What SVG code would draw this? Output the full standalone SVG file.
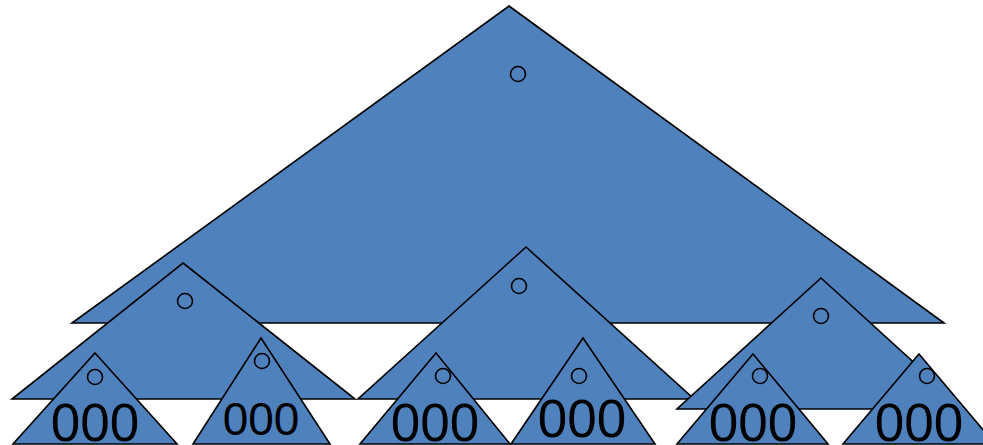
<svg xmlns="http://www.w3.org/2000/svg" width="983" height="445" viewBox="0 0 983 445">
<style>
.tri{fill:#4F81BD;stroke:#000;stroke-width:1.6;stroke-linejoin:miter}
.dot{fill:none;stroke:#000;stroke-width:1.6}
.lbl{font-family:"Liberation Sans",Arial,sans-serif;fill:#000;text-anchor:middle}
</style>
<rect width="983" height="445" fill="#fff"/>
<g id="root">
<polygon class="tri" points="509,6 944,323 72,323"/>
<circle class="dot" cx="518" cy="74" r="7.5"/>
</g>
<g id="midA">
<polygon class="tri" points="183,263 355,399 12,399"/>
<circle class="dot" cx="185" cy="301" r="7.5"/>
</g>
<g id="midB">
<polygon class="tri" points="526,247 694,399 358,399"/>
<circle class="dot" cx="519" cy="286" r="7.5"/>
</g>
<g id="midC">
<polygon class="tri" points="821,278 965,409 677,409"/>
<circle class="dot" cx="821" cy="316" r="7.5"/>
</g>
<g id="leaf1">
<polygon class="tri" points="95,353 177,444 13,444"/>
<circle class="dot" cx="95" cy="377" r="7.5"/>
<text class="lbl" x="95" y="441" font-size="53">000</text>
</g>
<g id="leaf2">
<polygon class="tri" points="261,338 330,444 193,444"/>
<circle class="dot" cx="262" cy="361" r="7.5"/>
<text class="lbl" x="261" y="435" font-size="46">000</text>
</g>
<g id="leaf3">
<polygon class="tri" points="436,353 510,444 360,444"/>
<circle class="dot" cx="443" cy="376" r="7.5"/>
<text class="lbl" x="435" y="441" font-size="53">000</text>
</g>
<g id="leaf4">
<polygon class="tri" points="583,338 655,444 511,444"/>
<circle class="dot" cx="579" cy="376" r="7.5"/>
<text class="lbl" x="582" y="437" font-size="53">000</text>
</g>
<g id="leaf5">
<polygon class="tri" points="753,354 828,444 677,444"/>
<circle class="dot" cx="760" cy="376" r="7.5"/>
<text class="lbl" x="753" y="441" font-size="53">000</text>
</g>
<g id="leaf6">
<polygon class="tri" points="919,354 995,444 843,444"/>
<circle class="dot" cx="927" cy="376" r="7.5"/>
<text class="lbl" x="919" y="441" font-size="53">000</text>
</g>
<g id="connectors"></g>
</svg>
